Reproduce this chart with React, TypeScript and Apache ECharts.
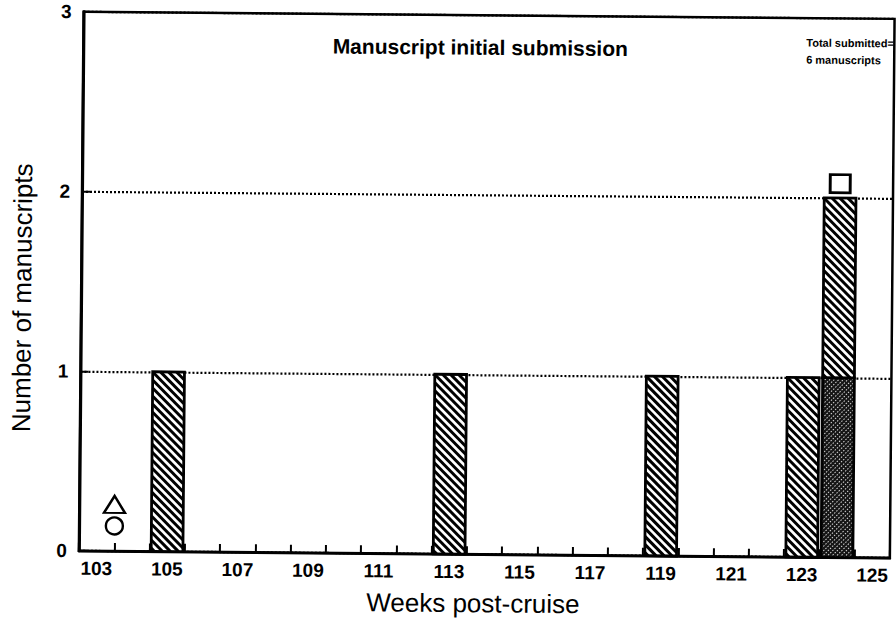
import React, { useEffect, useRef } from "react";
import * as echarts from "echarts";

// ---- data ----
const weekLabels = [
  "103", "104", "105", "106", "107", "108", "109", "110", "111", "112", "113", "114",
  "115", "116", "117", "118", "119", "120", "121", "122", "123", "124", "125",
];
const yMin = 0;
const yMax = 3;
const yInterval = 1;

// hatched submissions: week, stacked base, count
const hatchedWeeks = [105, 113, 119, 123, 124];
const hatchedBase = [0, 0, 0, 0, 1];
const hatchedCounts = [1, 1, 1, 1, 1];

// dark cross-hatched submissions
const darkWeeks = [124];
const darkBase = [0];
const darkCounts = [1];

// open markers
const circlePoints = [[103.5, 0.14]];
const trianglePoints = [[103.5, 0.26]];
const squarePoints = [[124, 2.08]];

const titleText = "Manuscript initial submission";
const noteText = "Total submitted=\n6 manuscripts";
const xName = "Weeks post-cruise";
const yName = "Number of manuscripts";

const FONT = '"Liberation Sans", Arial, Helvetica, sans-serif';
const HALF = 0.45;

function hatchItem(params: any, api: any, dark: boolean) {
  const x = api.value(0);
  const base = api.value(1);
  const top = api.value(2);
  const p0 = api.coord([x - HALF, top]);
  const p1 = api.coord([x + HALF, base]);
  const rx = p0[0];
  const ry = p0[1];
  const w = p1[0] - p0[0];
  const h = p1[1] - p0[1];
  const children: any[] = [];
  children.push({
    type: "rect",
    shape: { x: rx, y: ry, width: w, height: h },
    style: { fill: dark ? "#151515" : "#fff", stroke: null },
  });
  const step = dark ? 4.5 : 8;
  if (!dark) {
    // "\" lines
    for (let c = -w; c < h; c += step) {
      const t0 = Math.max(0, -c);
      const t1 = Math.min(w, h - c);
      if (t1 > t0) {
        children.push({
          type: "line",
          shape: { x1: rx + t0, y1: ry + c + t0, x2: rx + t1, y2: ry + c + t1 },
          style: { stroke: "#000", lineWidth: 3 },
        });
      }
    }
  } else {
    // "/" lines
    for (let c = 0; c < h + w; c += step) {
      const t0 = Math.max(0, c - h);
      const t1 = Math.min(w, c);
      if (t1 > t0) {
        children.push({
          type: "line",
          shape: { x1: rx + t0, y1: ry + c - t0, x2: rx + t1, y2: ry + c - t1 },
          style: { stroke: "#d8d8d8", lineWidth: 1, lineDash: [1.5, 1.5] },
        });
      }
    }
  }
  children.push({
    type: "rect",
    shape: { x: rx, y: ry, width: w, height: h },
    style: { fill: "none", stroke: "#000", lineWidth: 2.8 },
  });
  return { type: "group", children };
}

export default function App() {
  const ref = useRef<HTMLDivElement>(null);

  useEffect(() => {
    if (!ref.current) return;
    const chart = echarts.init(ref.current, null, { renderer: "svg" });

    const hatchedData = hatchedWeeks.map((wk, i) => [wk, hatchedBase[i], hatchedBase[i] + hatchedCounts[i]]);
    const darkData = darkWeeks.map((wk, i) => [wk, darkBase[i], darkBase[i] + darkCounts[i]]);

    chart.setOption({
      animation: false,
      backgroundColor: "#fff",
      grid: {
        left: 81,
        right: 4,
        top: 15,
        bottom: 63,
        show: true,
        borderColor: "#000",
        borderWidth: 2.5,
        backgroundColor: "transparent",
      },
      xAxis: [
        {
          type: "category",
          data: weekLabels,
          boundaryGap: true,
          position: "bottom",
          axisLine: { show: true, lineStyle: { color: "#000", width: 2.5 } },
          axisTick: { show: true, inside: true, length: 8, interval: 0, lineStyle: { color: "#000", width: 2 } },
          axisLabel: {
            interval: 1,
            color: "#000",
            fontFamily: FONT,
            fontWeight: "bold",
            fontSize: 19,
            margin: 8,
          },
          splitLine: { show: false },
          name: xName,
          nameLocation: "middle",
          nameGap: 36,
          nameTextStyle: {
            color: "#000",
            fontFamily: FONT,
            fontSize: 26,
            padding: [0, 22, 0, 0],
          },
        },
        {
          type: "value",
          min: 102.5,
          max: 125.5,
          show: false,
          splitLine: { show: false },
        },
      ],
      yAxis: {
        type: "value",
        min: yMin,
        max: yMax,
        interval: yInterval,
        axisLine: { show: true, lineStyle: { color: "#000", width: 3 } },
        axisTick: { show: true, inside: true, length: 8, lineStyle: { color: "#000", width: 2 } },
        axisLabel: {
          color: "#000",
          fontFamily: FONT,
          fontWeight: "bold",
          fontSize: 19,
          margin: 12,
        },
        splitLine: { show: true, lineStyle: { color: "#000", width: 2.2, type: [2, 2] } },
        name: yName,
        nameLocation: "middle",
        nameGap: 46,
        nameTextStyle: { color: "#000", fontFamily: FONT, fontSize: 26, padding: [0, 34, 0, 0] },
      },
      graphic: [
        {
          type: "text",
          x: 478,
          y: 47,
          style: {
            text: titleText,
            font: `bold 21px ${FONT}`,
            fill: "#000",
            textAlign: "center",
            textVerticalAlign: "middle",
          },
        },
        {
          type: "text",
          x: 804,
          y: 48,
          style: {
            text: noteText,
            font: `bold 11px ${FONT}`,
            fill: "#000",
            textAlign: "left",
            textVerticalAlign: "middle",
            lineHeight: 17,
          },
        },
      ],
      series: [
        {
          type: "custom",
          name: "dark",
          xAxisIndex: 1,
          yAxisIndex: 0,
          data: darkData,
          encode: { x: 0, y: [1, 2] },
          renderItem: (p: any, api: any) => hatchItem(p, api, true),
          z: 3,
        },
        {
          type: "custom",
          name: "hatched",
          xAxisIndex: 1,
          yAxisIndex: 0,
          data: hatchedData,
          encode: { x: 0, y: [1, 2] },
          renderItem: (p: any, api: any) => hatchItem(p, api, false),
          z: 3,
        },
        {
          type: "scatter",
          xAxisIndex: 1,
          yAxisIndex: 0,
          data: circlePoints,
          symbol: "circle",
          symbolSize: 17,
          itemStyle: { color: "#fff", borderColor: "#000", borderWidth: 2.4, opacity: 1 },
          z: 5,
        },
        {
          type: "scatter",
          xAxisIndex: 1,
          yAxisIndex: 0,
          data: trianglePoints,
          symbol: "triangle",
          symbolSize: [21, 17],
          itemStyle: { color: "#fff", borderColor: "#000", borderWidth: 2.4, opacity: 1 },
          z: 5,
        },
        {
          type: "scatter",
          xAxisIndex: 1,
          yAxisIndex: 0,
          data: squarePoints,
          symbol: "rect",
          symbolSize: [20, 18],
          itemStyle: { color: "#fff", borderColor: "#000", borderWidth: 2.8, opacity: 1 },
          z: 5,
        },
      ],
    });

    return () => chart.dispose();
  }, []);

  return (
    <div
      ref={ref}
      style={{
        position: "absolute",
        left: 0,
        top: 0,
        width: 896,
        height: 621,
        background: "#fff",
        transform: "rotate(0.5deg)",
      }}
    />
  );
}
